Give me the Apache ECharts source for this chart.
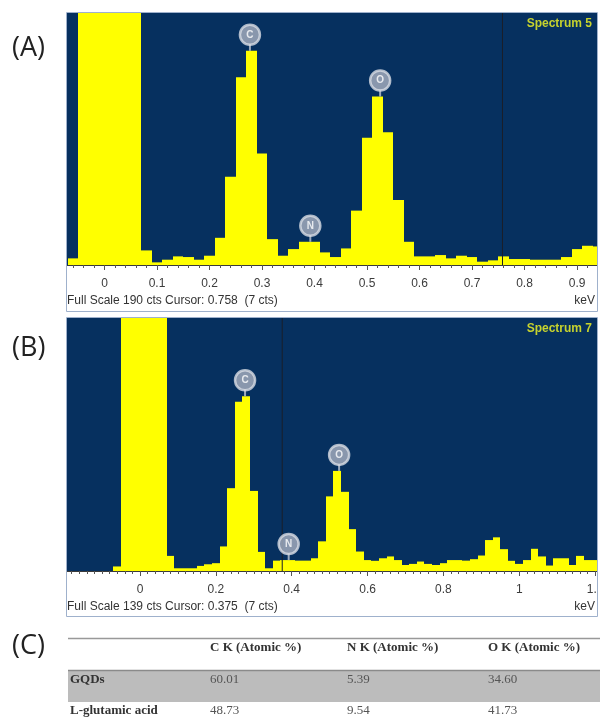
<!DOCTYPE html>
<html>
<head>
<meta charset="utf-8">
<script src="https://cdn.jsdelivr.net/npm/echarts@6/dist/echarts.min.js"></script>
<style>
html,body{margin:0;padding:0;background:#fff;}
#chart{width:600px;height:726px;}
</style>
</head>
<body>
<div id="chart"></div>
<script>
// ---- Spectrum 5 (panel A) ----
const energyA = [-0.06,-0.04,-0.02,0,0.02,0.04,0.06,0.08,0.10,0.12,0.14,0.16,0.18,0.20,0.22,0.24,0.26,0.28,0.30,0.32,0.34,0.36,0.38,0.40,0.42,0.44,0.46,0.48,0.50,0.52,0.54,0.56,0.58,0.60,0.62,0.64,0.66,0.68,0.70,0.72,0.74,0.76,0.78,0.80,0.82,0.84,0.86,0.88,0.90,0.92,0.94];
const countsA = [5,190,190,190,190,190,190,11,2,4,6.5,6,4,7,20.5,66.5,141.5,161.5,84,19.5,7,12,17.5,17.5,9.5,6,12.5,41,96,127,100,49,17.5,6.5,6.5,7.5,5,7,6,2.5,3.5,6.5,4.5,4.5,4,4,4,6,12,14.5,14];
const ticksA = [0,0.1,0.2,0.3,0.4,0.5,0.6,0.7,0.8,0.9];
const peaksA = [['C',0.277,161.5],['N',0.392,17.5],['O',0.525,127]];
const cursorA = 0.758;
const fullScaleA = 190;

// ---- Spectrum 7 (panel B) ----
const energyB = [-0.06,-0.04,-0.02,0,0.02,0.04,0.06,0.08,0.10,0.12,0.14,0.16,0.18,0.20,0.22,0.24,0.26,0.28,0.30,0.32,0.34,0.36,0.38,0.40,0.42,0.44,0.46,0.48,0.50,0.52,0.54,0.56,0.58,0.60,0.62,0.64,0.66,0.68,0.70,0.72,0.74,0.76,0.78,0.80,0.82,0.84,0.86,0.88,0.90,0.92,0.94,0.96,0.98,1.00,1.02,1.04,1.06,1.08,1.10,1.12,1.14,1.16,1.18,1.20];
const countsB = [2.5,139,139,139,139,139,139,8.3,1.5,1.5,1.5,2.8,3.7,4.3,13.5,45.5,93,96,44,10.5,1.5,5.7,6,6,5.7,5.7,7,16.3,41,55,43.5,23,10.7,6,5.6,7,8,6,3.3,3.9,5.2,3.9,3.3,4.3,6,6,5.7,6.5,8.5,17,18.5,12,5.6,3.9,6,12.2,8,3,7,7,3.3,8.3,6,6];
const ticksB = [0,0.2,0.4,0.6,0.8,1,1.2];
const peaksB = [['C',0.277,96],['N',0.392,6],['O',0.525,55]];
const cursorB = 0.375;
const fullScaleB = 139;

// ---- Table (C) ----
const tableHeaders = ['C K (Atomic %)','N K (Atomic %)','O K (Atomic %)'];
const tableRows = ['GQDs','L-glutamic acid'];
const tableCK = ['60.01','48.73'];
const tableNK = ['5.39','9.54'];
const tableOK = ['34.60','41.73'];

const BIN_HALF = 0.01;
const YELLOW = '#ffff00';
const NAVY = '#06305f';

function minorTicks(lo, hi) {
  const out = [];
  for (let k = Math.ceil(lo / 0.02); k * 0.02 <= hi + 1e-9; k++) out.push(+(k * 0.02).toFixed(2));
  return out;
}

function renderBar(params, api) {
  const x = api.value(0), y = api.value(1);
  const p0 = api.coord([x - BIN_HALF, y]);
  const p1 = api.coord([x + BIN_HALF, 0]);
  const x0 = Math.round(p0[0]), x1 = Math.round(p1[0]);
  const cs = params.coordSys;
  const r = echarts.graphic.clipRectByRect(
    {x: x0, y: p0[1], width: x1 - x0, height: p1[1] - p0[1]},
    {x: cs.x, y: cs.y, width: cs.width, height: cs.height});
  return r && {type: 'rect', shape: r, style: {fill: YELLOW}};
}

function axisPair(grid, min, max, majors) {
  return [
    {gridIndex: grid, type: 'value', min: min, max: max, position: 'bottom',
     axisLine: {show: true, lineStyle: {color: '#3a3a3a', width: 1}},
     axisTick: {show: true, customValues: minorTicks(min, max), length: 3, lineStyle: {color: '#555'}},
     axisLabel: {show: false}, splitLine: {show: false}},
    {gridIndex: grid, type: 'value', min: min, max: max, position: 'bottom',
     axisLine: {show: false},
     axisTick: {show: true, customValues: majors, length: 5, lineStyle: {color: '#555'}},
     axisLabel: {show: true, customValues: majors, margin: 13, fontSize: 12,
                 fontFamily: 'Liberation Sans, Arial', color: '#3c3c3c',
                 formatter: v => String(Math.round(v * 10) / 10)},
     splitLine: {show: false}}
  ];
}

function peakSeries(xi, yi, peaks) {
  return [
    {type: 'scatter', xAxisIndex: xi, yAxisIndex: yi, silent: true, z: 5,
     symbol: 'rect', symbolSize: [2, 7], symbolOffset: [0, -3.5],
     itemStyle: {color: '#c3c9d3'},
     data: peaks.map(p => [p[1], p[2]])},
    {type: 'scatter', xAxisIndex: xi, yAxisIndex: yi, silent: true, z: 6,
     symbol: 'circle', symbolSize: 20, symbolOffset: [0, -16],
     itemStyle: {color: '#aab2c0', borderColor: '#d9dde5', borderWidth: 2.5},
     label: {show: true, position: 'inside', formatter: p => p.data[2], color: '#ffffff',
             fontSize: 10, fontWeight: 'bold', fontFamily: 'Liberation Sans, Arial'},
     data: peaks.map(p => [p[1], p[2], p[0]])}
  ];
}

const chart = echarts.init(document.getElementById('chart'), null, {renderer: 'canvas'});

const graphics = [];
// frames
graphics.push({type: 'rect', shape: {x: 66.5, y: 12.5, width: 531, height: 299}, style: {fill: 'none', stroke: '#9fb1cc', lineWidth: 1}, z: 10});
graphics.push({type: 'rect', shape: {x: 66.5, y: 317.5, width: 531, height: 299}, style: {fill: 'none', stroke: '#9fb1cc', lineWidth: 1}, z: 10});
graphics.push({type: 'rect', shape: {x: 598, y: 575, width: 2, height: 30}, style: {fill: '#fff'}, z: 9});
// panel letters
[['(A)', 48], ['(B)', 348], ['(C)', 646]].forEach(([t, y]) => {
  graphics.push({type: 'text', x: 12, y: y, style: {text: t, font: '27px "Open Sans", sans-serif', fill: '#222', textVerticalAlign: 'middle'}});
});
// spectrum names
graphics.push({type: 'text', x: 592, y: 24, style: {text: 'Spectrum 5', font: 'bold 12px "Liberation Sans", Arial', fill: '#c6d22e', textAlign: 'right', textVerticalAlign: 'middle'}});
graphics.push({type: 'text', x: 592, y: 329, style: {text: 'Spectrum 7', font: 'bold 12px "Liberation Sans", Arial', fill: '#c6d22e', textAlign: 'right', textVerticalAlign: 'middle'}});
// full scale captions
graphics.push({type: 'text', x: 67, y: 301, style: {text: 'Full Scale ' + fullScaleA + ' cts Cursor: ' + cursorA.toFixed(3) + '  (7 cts)', font: '12px "Liberation Sans", Arial', fill: '#333', textVerticalAlign: 'middle'}});
graphics.push({type: 'text', x: 595, y: 301, style: {text: 'keV', font: '12px "Liberation Sans", Arial', fill: '#333', textAlign: 'right', textVerticalAlign: 'middle'}});
graphics.push({type: 'text', x: 67, y: 607, style: {text: 'Full Scale ' + fullScaleB + ' cts Cursor: ' + cursorB.toFixed(3) + '  (7 cts)', font: '12px "Liberation Sans", Arial', fill: '#333', textVerticalAlign: 'middle'}});
graphics.push({type: 'text', x: 595, y: 607, style: {text: 'keV', font: '12px "Liberation Sans", Arial', fill: '#333', textAlign: 'right', textVerticalAlign: 'middle'}});
// table
const colX = [210, 347, 488];
graphics.push({type: 'line', shape: {x1: 68, y1: 638.5, x2: 600, y2: 638.5}, style: {stroke: '#999', lineWidth: 1.5}});
tableHeaders.forEach((h, i) => graphics.push({type: 'text', x: colX[i], y: 648, style: {text: h, font: 'bold 13px "Liberation Serif", "Times New Roman", serif', fill: '#333', textVerticalAlign: 'middle'}}));
graphics.push({type: 'rect', shape: {x: 68, y: 670, width: 532, height: 32}, style: {fill: '#bcbcbc'}});
graphics.push({type: 'line', shape: {x1: 68, y1: 670.5, x2: 600, y2: 670.5}, style: {stroke: '#8a8a8a', lineWidth: 1.5}});
const rowY = [680, 711];
tableRows.forEach((r, i) => {
  graphics.push({type: 'text', x: 70, y: rowY[i], style: {text: r, font: 'bold 13px "Liberation Serif", "Times New Roman", serif', fill: '#333', textVerticalAlign: 'middle'}});
  [tableCK[i], tableNK[i], tableOK[i]].forEach((v, j) => graphics.push({type: 'text', x: colX[j], y: rowY[i], style: {text: v, font: '13px "Liberation Serif", "Times New Roman", serif', fill: '#555', textVerticalAlign: 'middle'}}));
});

const option = {
  animation: false,
  backgroundColor: '#ffffff',
  grid: [
    {left: 67, top: 13, width: 530, height: 252, show: true, backgroundColor: NAVY, borderWidth: 0, containLabel: false, outerBoundsMode: 'none'},
    {left: 67, top: 318, width: 530, height: 253, show: true, backgroundColor: NAVY, borderWidth: 0, containLabel: false, outerBoundsMode: 'none'}
  ],
  xAxis: [].concat(axisPair(0, -0.0714, 0.938, ticksA), axisPair(1, -0.1925, 1.205, ticksB)),
  yAxis: [
    {gridIndex: 0, type: 'value', min: 0, max: fullScaleA, show: false, splitLine: {show: false}},
    {gridIndex: 1, type: 'value', min: 0, max: fullScaleB, show: false, splitLine: {show: false}}
  ],
  series: [
    {type: 'custom', xAxisIndex: 0, yAxisIndex: 0, renderItem: renderBar, silent: true,
     data: energyA.map((e, i) => [e, countsA[i]])},
    {type: 'custom', xAxisIndex: 2, yAxisIndex: 1, renderItem: renderBar, silent: true,
     data: energyB.map((e, i) => [e, countsB[i]])},
    {type: 'line', xAxisIndex: 0, yAxisIndex: 0, silent: true, symbol: 'none', z: 4,
     lineStyle: {color: '#1a1f2a', width: 1}, data: [[cursorA, 0], [cursorA, fullScaleA]]},
    {type: 'line', xAxisIndex: 2, yAxisIndex: 1, silent: true, symbol: 'none', z: 4,
     lineStyle: {color: '#1a1f2a', width: 1}, data: [[cursorB, 0], [cursorB, fullScaleB]]}
  ].concat(peakSeries(0, 0, peaksA), peakSeries(2, 1, peaksB)),
  graphic: graphics
};
chart.setOption(option);
</script>
</body>
</html>
